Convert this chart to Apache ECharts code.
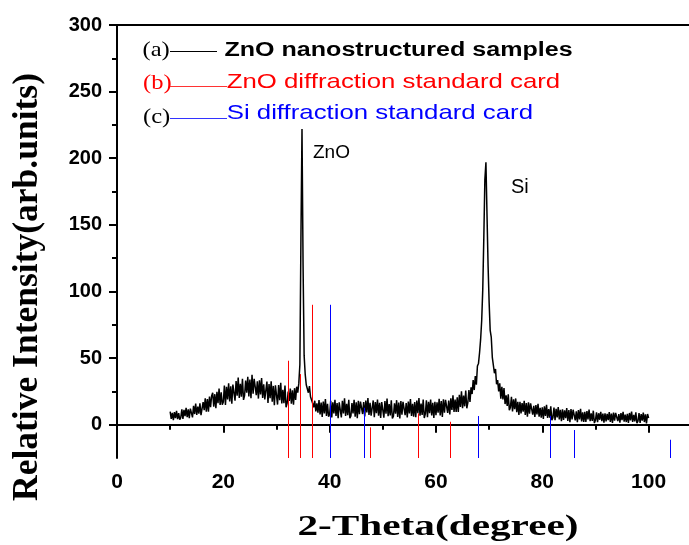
<!DOCTYPE html>
<html>
<head>
<meta charset="utf-8">
<script src="https://cdn.jsdelivr.net/npm/echarts@6/dist/echarts.min.js"></script>
<style>html,body{margin:0;padding:0;background:#fff}#c{width:689px;height:545px}</style>
</head>
<body>
<div id="c"></div>
<script>
// ---- data ----
const xMajorTicks = [0, 20, 40, 60, 80, 100];
const xMinorTicks = [10, 30, 50, 70, 90];
const yMajorTicks = [0, 50, 100, 150, 200, 250, 300];
const yMinorTicks = [25, 75, 125, 175, 225, 275];

// measured XRD scan: 2-theta from 10 to 100 in 0.2 degree steps
const twoThetaStart = 10;
const twoThetaStep = 0.2;
const intensity = [
9.8,4.4,8.9,3.5,9.5,5,10.4,4.1,8.6,3.8,
5.5,11.6,4.4,11.2,6.4,12.6,5.6,11.5,4.9,12.1,
12.8,5.5,14.1,8,15.9,7.3,13.6,8.3,16.1,7.2,
8.5,16.9,10.9,19.8,9.8,19.2,9.7,21.1,13.1,21.5,
24,13.5,22.9,12.4,24.7,16.1,27.2,14.9,24.3,15,
17.1,29.3,14.9,28.4,18.9,31.1,17.4,28.8,15.8,30.1,
31.1,18,32.8,21.8,35.3,20,30.7,21.1,34.5,18.6,
21.9,33.1,24,35.9,21.2,33.8,19.8,37.5,23.3,34.5,
35,22.2,32.5,19.6,33.4,22.7,35.1,20.1,30.4,19,
19.7,32.3,16.4,30.5,19.8,32.5,17.2,29.1,14.7,29.5,
28.6,15.1,29.7,18.3,31.4,15.9,26.2,16.2,29.4,13.1,
16,24.9,17.8,27.2,15.8,25.8,15,27.4,18.6,28.5,
24,31,45,140,222,120,52,38,30,27,
24,29,21,20,16,13,18,10,16,9,
18.5,7.7,16.7,5.9,17.4,8.4,19.2,6.6,15.6,6,
7.8,18,5.4,16.8,8.4,18.6,6.6,16.2,4.8,16.8,
16.8,5.4,18,8.4,19.8,6.6,15.6,7.2,18.6,4.8,
6.6,16.2,8.4,18.6,6,16.8,4.8,18,7.8,17.4,
18.8,8,17,6.2,18.2,9.2,20,7.4,16.4,6.8,
8,18.2,5.6,17,8.6,18.8,6.8,16.4,5,17,
16.6,5.2,17.8,8.2,19.6,6.4,15.4,7,18.4,4.6,
6.4,16,8.2,18.4,5.8,16.6,4.6,17.8,7.6,17.2,
18,7.2,16.2,5.4,17.4,8.4,19.2,6.6,15.6,6,
17,5.6,18.2,8.6,20,6.8,15.8,7.4,18.8,5,
8.1,18.3,5.7,17.1,8.7,18.9,6.9,16.5,5.1,17.1,
7.1,16.8,9.1,19.4,6.9,17.8,5.9,19.1,9,18.7,
19.5,8.9,18.1,7.6,19.8,11,22,9.6,18.9,9.5,
20.5,9.5,22.5,13.3,25.1,12.4,21.8,13.8,25.6,12.3,
16.5,26,17,28,23,33.5,26,36.5,30,44,
46,54,64,78,101,140,184,197,158,120,
92,70.8,65.8,50.6,50.6,38.6,41.8,30.4,33.4,25,
31,19.5,28.5,19,27.5,15.5,22,14,22.8,10.8,
13,21,10,19,11.6,19.7,9.4,17.1,7.4,17.2,
8.5,16.3,9.7,18,7.3,16.2,6,16.8,8.2,16,
15.8,7.5,14.2,5.8,14.8,7.8,15.7,6,12.7,5.3,
13.1,4.4,13.8,6.5,15,5,11.7,5.3,13.8,3.3,
5.3,12.9,3.4,11.9,5.5,13.2,4,11.2,2.6,11.5,
3.6,10.8,4.9,12.5,2.9,11,1.9,11.7,4,11.2,
11.5,3.3,10.1,1.9,10.9,4,12,2.4,9.2,2,
9.6,2,10.3,3.9,11.4,2.6,8.5,2.9,10.5,1.2,
3.3,9.3,1.9,8.6,3.7,9.7,2.6,8.3,1.6,8.6,
2.4,8.1,3.5,9.5,2.1,8.4,1.4,9.1,3.1,8.8,
9,2.7,8,1.6,8.7,3.4,9.7,2.3,7.6,2,
8.1,1.4,8.8,3.2,9.9,2.1,7.4,2.5,9.2,1.1,
2.7,8.7,1.3,8,3.1,9.1,2,7.7,1,8,
5
];

// standard card stick lines: [2-theta, top value] (drawn up from the axis bottom)
const znoCard = [[32.0, 48], [34.6, 38], [36.5, 90], [47.6, -2], [56.7, 8.5], [62.6, 2.2]];
const siCard = [[39.9, 90], [46.4, 12.7], [67.8, 6.5], [81.6, 6.5], [86.1, -4], [104.2, -11.3]];

const xMin = 0, xMax = 107.6, yMin = -25, yMax = 300;

const xrdScan = intensity.map((v, i) => [Math.round((twoThetaStart + i * twoThetaStep) * 100) / 100, v]);

const chart = echarts.init(document.getElementById('c'), null, { renderer: 'canvas' });

const stickRenderer = (color) => (params, api) => {
  const x = api.value(0), top = api.value(1);
  const p0 = api.coord([x, yMin]);
  const p1 = api.coord([x, top]);
  const px = 2 * Math.round(p0[0] / 2) + 0.5;
  return {
    type: 'line',
    shape: { x1: px, y1: p0[1], x2: px, y2: p1[1] },
    style: { stroke: color, lineWidth: 1 }
  };
};

const axisBase = { color: '#000', width: 2 };

chart.setOption({
  animation: false,
  backgroundColor: '#fff',
  grid: { left: 117, right: 0, top: 25, bottom: 87 },
  xAxis: [
    {
      type: 'value', min: xMin, max: xMax, position: 'bottom',
      axisLine: { lineStyle: axisBase },
      axisTick: { show: true, inside: false, length: 8, customValues: xMajorTicks, lineStyle: { color: '#000', width: 2 } },
      axisLabel: { customValues: xMajorTicks, fontSize: 21, fontWeight: 'bold', fontFamily: 'Liberation Sans', color: '#000', margin: 14 },
      splitLine: { show: false }
    },
    {
      type: 'value', min: xMin, max: xMax, position: 'bottom',
      axisLine: { show: false },
      axisTick: { show: true, inside: false, length: 5, customValues: xMinorTicks, lineStyle: { color: '#000', width: 2 } },
      axisLabel: { show: false },
      splitLine: { show: false }
    },
    {
      type: 'value', min: xMin, max: xMax, position: 'top',
      axisLine: { lineStyle: axisBase },
      axisTick: { show: false }, axisLabel: { show: false }, splitLine: { show: false }
    }
  ],
  yAxis: [
    {
      type: 'value', min: yMin, max: yMax, position: 'left',
      axisLine: { show: true, lineStyle: axisBase },
      axisTick: { show: true, inside: false, length: 8, customValues: yMajorTicks, lineStyle: { color: '#000', width: 2 } },
      axisLabel: { customValues: yMajorTicks, fontSize: 20, fontWeight: 'bold', fontFamily: 'Liberation Sans', color: '#000', margin: 15 },
      splitLine: { show: false }
    },
    {
      type: 'value', min: yMin, max: yMax, position: 'left',
      axisLine: { show: false },
      axisTick: { show: true, inside: false, length: 5, customValues: yMinorTicks, lineStyle: { color: '#000', width: 2 } },
      axisLabel: { show: false },
      splitLine: { show: false }
    }
  ],
  series: [
    {
      type: 'line', xAxisIndex: 0, yAxisIndex: 0, data: xrdScan,
      showSymbol: false, symbol: 'none',
      lineStyle: { color: '#000', width: 1.5 }, z: 2
    },
    {
      type: 'custom', xAxisIndex: 0, yAxisIndex: 0, data: znoCard,
      renderItem: stickRenderer('#ff0000'), z: 3
    },
    {
      type: 'custom', xAxisIndex: 0, yAxisIndex: 0, data: siCard,
      renderItem: stickRenderer('#0000ff'), z: 3
    }
  ],
  graphic: [
    // legend block
    { type: 'text', x: 142.5, y: 50, scaleX: 1.17, style: { text: '(a)', font: '21px "Liberation Serif"', fill: '#000', align: 'left', verticalAlign: 'middle' } },
    { type: 'line', shape: { x1: 170, y1: 51.5, x2: 217, y2: 51.5 }, style: { stroke: '#000', lineWidth: 1 } },
    { type: 'text', x: 224.5, y: 51, scaleX: 1.285, style: { text: 'ZnO nanostructured samples', font: 'bold 19.5px "Liberation Sans"', fill: '#000', align: 'left', verticalAlign: 'middle' } },

    { type: 'text', x: 143, y: 83.5, scaleX: 1.17, style: { text: '(b)', font: '21px "Liberation Serif"', fill: '#ff0000', align: 'left', verticalAlign: 'middle' } },
    { type: 'line', shape: { x1: 170, y1: 86.5, x2: 227, y2: 86.5 }, style: { stroke: '#ff3333', lineWidth: 1 } },
    { type: 'text', x: 226.7, y: 82.5, scaleX: 1.228, style: { text: 'ZnO diffraction standard card', font: '21px "Liberation Sans"', fill: '#ff0000', align: 'left', verticalAlign: 'middle' } },

    { type: 'text', x: 143, y: 117, scaleX: 1.17, style: { text: '(c)', font: '21px "Liberation Serif"', fill: '#000', align: 'left', verticalAlign: 'middle' } },
    { type: 'line', shape: { x1: 170, y1: 118.5, x2: 227, y2: 118.5 }, style: { stroke: '#3333ff', lineWidth: 1 } },
    { type: 'text', x: 226.7, y: 113.5, scaleX: 1.228, style: { text: 'Si diffraction standard card', font: '21px "Liberation Sans"', fill: '#0000ff', align: 'left', verticalAlign: 'middle' } },

    // peak annotations
    { type: 'text', x: 313, y: 152.5, style: { text: 'ZnO', font: '19px "Liberation Sans"', fill: '#000', align: 'left', verticalAlign: 'middle' } },
    { type: 'text', x: 511, y: 187.5, style: { text: 'Si', font: '20px "Liberation Sans"', fill: '#000', align: 'left', verticalAlign: 'middle' } },

    // axis titles
    { type: 'text', x: 438, y: 527, scaleX: 1.375, style: { text: '2-Theta(degree)', font: 'bold 30px "Liberation Serif"', fill: '#000', align: 'center', verticalAlign: 'middle' } },
    { type: 'text', x: 28, y: 287, rotation: Math.PI / 2, style: { text: 'Relative Intensity(arb.units)', font: 'bold 35.5px "Liberation Serif"', fill: '#000', align: 'center', verticalAlign: 'middle' } }
  ]
});
</script>
</body>
</html>
